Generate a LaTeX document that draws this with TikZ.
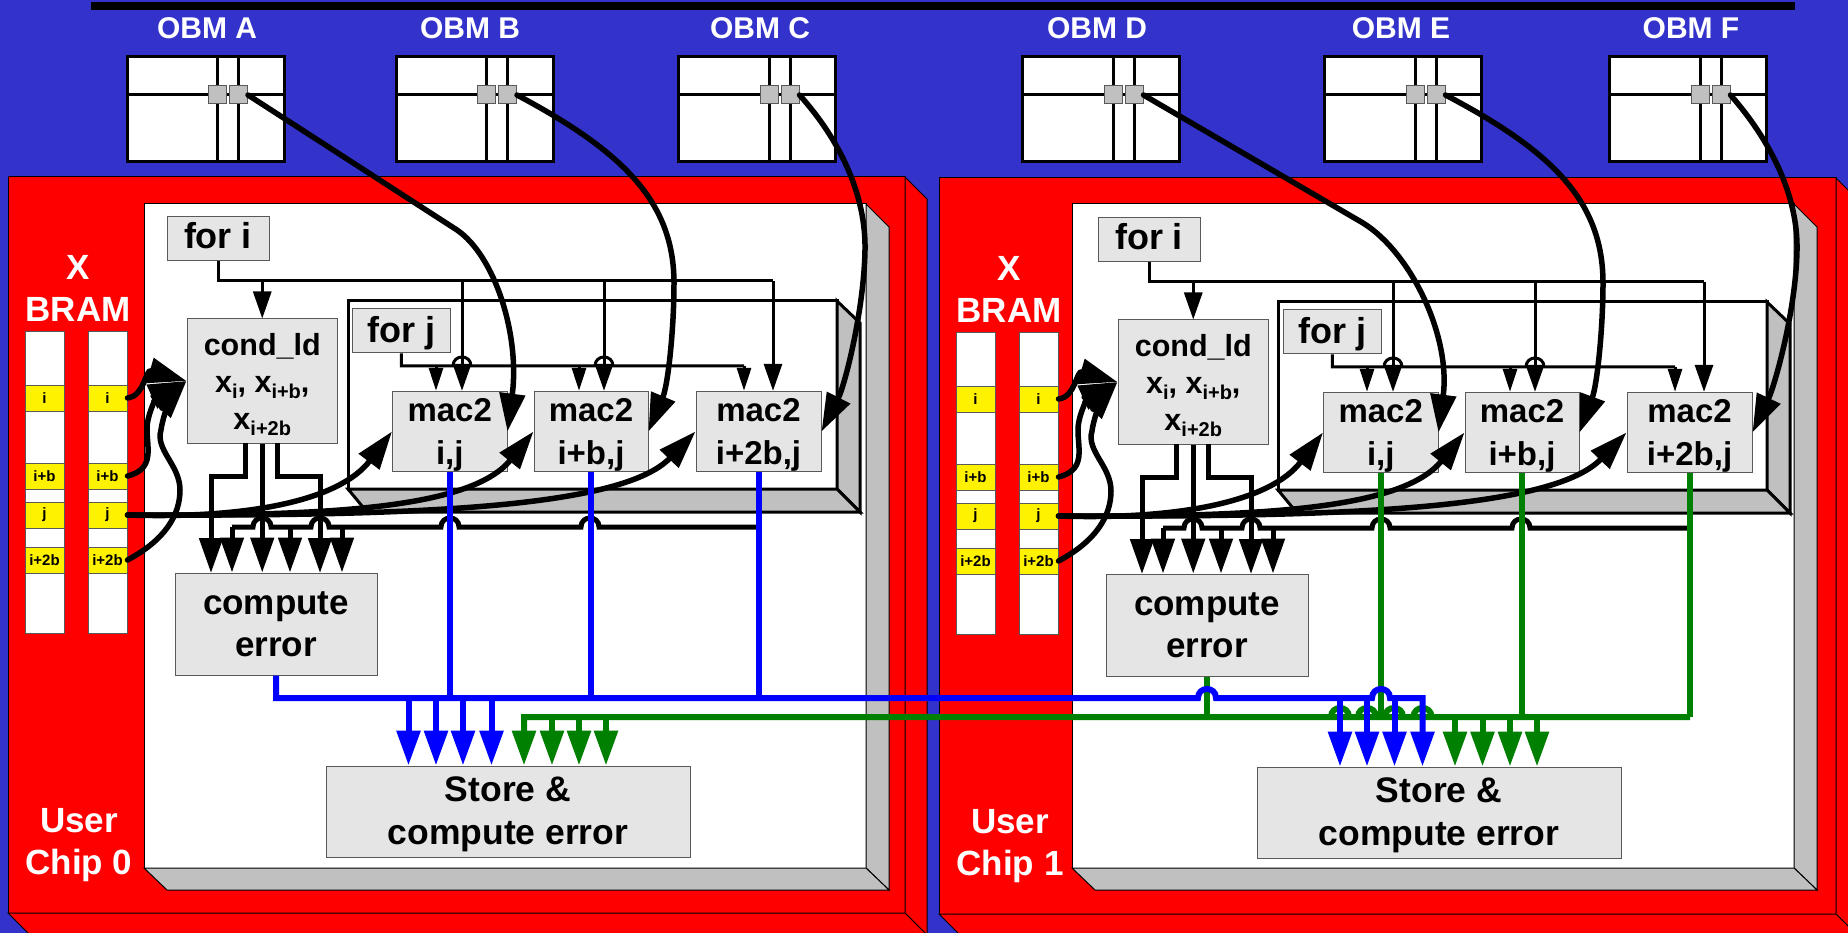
\documentclass[tikz,border=0pt]{standalone}
\usepackage{fontspec}
\setmainfont{Liberation Sans}
\usepackage{tikz}
\usetikzlibrary{arrows.meta}

\definecolor{obmblue}{HTML}{3333CC}
\definecolor{obmgreen}{HTML}{008000}
\definecolor{boxgray}{HTML}{E5E5E5}
\definecolor{depthgray}{HTML}{C0C0C0}

\newcommand{\subtxt}[1]{\smash{\raisebox{-6pt}{\fontsize{20}{20}\selectfont #1}}}

\tikzset{
  edge/.style={draw=black, line width=1pt},
  panel/.style={draw=black, line width=3pt},
  obmbox/.style={draw=black, fill=white, line width=3pt, minimum width=157, minimum height=105, inner sep=0pt},
  portbox/.style={draw=black!65, fill=depthgray, line width=1pt, minimum width=18, minimum height=18, inner sep=0pt},
  obmtext/.style={text=white, font=\fontsize{30}{30}\selectfont\bfseries},
  chiptext/.style={text=white, align=center, font=\fontsize{35}{41.5}\selectfont\bfseries},
  blockbox/.style={draw=black!65, fill=boxgray, line width=1pt, inner sep=0pt, align=center, font=\fontsize{33}{43.5}\selectfont\bfseries},
  bramcol/.style={draw=black!65, fill=white, line width=1pt, minimum width=39, minimum height=301, inner sep=0pt},
  bramcell/.style={draw=black!65, fill=yellow, line width=1pt, minimum width=39, minimum height=26, inner sep=0pt, font=\fontsize{15}{15}\selectfont\bfseries},
  fineline/.style={draw=black, line width=3pt},
  finetip/.style={fineline, -{Triangle[length=27pt,width=18pt]}},
  smalltip/.style={fineline, -{Triangle[length=23pt,width=14pt]}},
  busline/.style={draw=black, line width=5pt},
  bustip/.style={busline, -{Triangle[length=35pt,width=23pt]}},
  curvetip/.style={draw=black, line width=5.5pt, line cap=round, -{Triangle[length=38pt,width=25pt]}},
  bluewire/.style={draw=blue, line width=6pt},
  bluetip/.style={bluewire, -{Triangle[length=35pt,width=23pt]}},
  greenwire/.style={draw=obmgreen, line width=6pt},
  greentip/.style={greenwire, -{Triangle[length=35pt,width=23pt]}},
  hop/.style={insert path={.. controls +(0,-12) and +(0,-12) .. ++(18,0)}},
}

\begin{document}
\begin{tikzpicture}[x=1pt, y=-1pt]

  \useasboundingbox (0,0) rectangle (1848,933);
  \clip (0,0) rectangle (1848,933);
  \fill [obmblue] (0,0) rectangle (1848,933);
  \fill [black] (91,2) rectangle (1795,10);

  %Chip 0
  \draw [edge, fill=red] (8,177) rectangle (905,913);
  \draw [edge, fill=red] (905,177) -- (927,199) -- (927,935) -- (905,913) -- cycle;
  \draw [edge, fill=red] (8,913) -- (905,913) -- (927,935) -- (30,935) -- cycle;
  \draw [edge, fill=white] (144,204) rectangle (866,868);
  \draw [edge, fill=depthgray] (866,204) -- (889,227) -- (889,890) -- (866,868) -- cycle;
  \draw [edge, fill=depthgray] (144,868) -- (866,868) -- (889,890) -- (167,890) -- cycle;
  \draw [panel, fill=white] (348,301) rectangle (837,489);
  \draw [panel, fill=depthgray] (837,301) -- (860,323) -- (860,512) -- (837,489) -- cycle;
  \draw [panel, fill=depthgray] (348,489) -- (837,489) -- (860,512) -- (367,512) -- cycle;
  \node [chiptext] (xbrama) at (78,288.5) {X\\BRAM};
  \node [chiptext] (usera) at (79,845) {User\\Chip 0};
  %Chip 0 BRAM
  \node [bramcol] (colla) at (44.5,482.5) {};
  \node [bramcol] (colra) at (107.5,482.5) {};
  \node [bramcell] (ila) at (44.5,398) {i};
  \node [bramcell] (ira) at (107.5,398) {i};
  \node [bramcell] (bla) at (44.5,476) {i+b};
  \node [bramcell] (bra) at (107.5,476) {i+b};
  \node [bramcell] (jla) at (44.5,515) {j};
  \node [bramcell] (jra) at (107.5,515) {j};
  \node [bramcell] (tla) at (44.5,560) {i+2b};
  \node [bramcell] (tra) at (107.5,560) {i+2b};
  %Chip 0 blocks
  \node [blockbox, minimum width=102, minimum height=44, text depth=7pt, font=\fontsize{36}{36}\selectfont\bfseries] (foria) at (218,239) {for i};
  \node [blockbox, minimum width=150.5, minimum height=124, font=\fontsize{30.5}{37}\selectfont\bfseries] (conda) at (262.25,381) {cond\_ld\\x\subtxt{i}, x\subtxt{i+b},\\x\subtxt{i+2b}};
  \node [blockbox, minimum width=98.5, minimum height=44, text depth=2.5pt, font=\fontsize{36}{36}\selectfont\bfseries] (forja) at (401.25,331) {for j};
  \node [blockbox, minimum width=114.5, minimum height=79] (maca) at (449.75,431.5) {\rule{0pt}{30pt}mac2\\i,j};
  \node [blockbox, minimum width=114, minimum height=79] (macb) at (591,431.5) {\rule{0pt}{30pt}mac2\\i+b,j};
  \node [blockbox, minimum width=125, minimum height=79] (macc) at (758.5,431.5) {\rule{0pt}{30pt}mac2\\i+2b,j};
  \node [blockbox, minimum width=202, minimum height=102, font=\fontsize{35}{42}\selectfont\bfseries] (cea) at (276,624) {compute\\error};
  \node [blockbox, minimum width=364, minimum height=91, font=\fontsize{35.5}{43}\selectfont\bfseries] (storea) at (508,811.5) {\rule{0pt}{30pt}Store \&\\compute error};
  %Chip 0 for i
  \coordinate (iaend) at (773,281);
  \coordinate (iacond) at (262.25,281);
  \coordinate (iamaca) at (462,281);
  \coordinate (iamacb) at (604,281);
  \draw [fineline] (foria.south) |- (iaend);
  \draw [finetip] (iacond) -- (conda.north);
  \draw [finetip] (iamaca) -- (maca.north -| iamaca);
  \draw [finetip] (iamacb) -- (macb.north -| iamacb);
  \draw [finetip] (iaend) -- (macc.north -| iaend);
  %Chip 0 for j
  \coordinate (jamaca) at (436,366);
  \coordinate (jamacb) at (579,366);
  \coordinate (jamacc) at (744,366);
  \coordinate (jahopa) at (453,366);
  \coordinate (jahopb) at (595,366);
  \draw [fineline] (forja.south) |- (jahopa) [hop] -- (jahopb) [hop] -- (jamacc);
  \draw [smalltip] (jamaca) -- (maca.north -| jamaca);
  \draw [smalltip] (jamacb) -- (macb.north -| jamacb);
  \draw [smalltip] (jamacc) -- (macc.north -| jamacc);
  %Chip 0 BRAM to blocks
  \draw [curvetip] (ira.east) .. controls (145,396) and (145,369) .. (conda.west);
  \draw [curvetip] (bra.east) .. controls (160,468) and (143,440) .. (148,420) .. controls (151,405) and (160,393) .. (conda.west);
  \draw [curvetip] (tra.east) .. controls (165,540) and (180,515) .. (180,490) .. controls (180,465) and (155,450) .. (161,430) .. controls (163,415) and (172,397) .. (conda.west);
  \draw [curvetip] (jra.east) .. controls (250,519) and (340,500) .. (maca.west);
  \draw [curvetip] (jra.east) .. controls (320,516) and (470,510) .. (macb.west);
  \draw [curvetip] (jra.east) .. controls (400,516) and (620,510) .. (macc.west);
  %Chip 0 feedback bus
  \coordinate (busa) at (232,527);
  \coordinate (busb) at (290,527);
  \coordinate (busc) at (342,527);
  \coordinate (hopaa) at (253,527);
  \coordinate (hopab) at (311,527);
  \coordinate (hopac) at (441,527);
  \coordinate (hopad) at (581,527);
  \draw [busline] (busa) -- (hopaa) [hop] -- (hopab) [hop] -- (hopac) [hop] -- (hopad) [hop] -- (macc.south |- busa);
  \draw [bustip] (busa) -- (cea.north -| busa);
  \draw [bustip] (busb) -- (cea.north -| busb);
  \draw [bustip] (busc) -- (cea.north -| busc);
  \coordinate (outla) at (245,443);
  \coordinate (bendla) at (245,476);
  \coordinate (tipla) at (211,573);
  \coordinate (outra) at (277,443);
  \coordinate (bendra) at (277,476);
  \coordinate (tipra) at (320,573);
  \draw [bustip] (outla) -- (bendla) -| (tipla);
  \draw [bustip] (conda.south) -- (cea.north -| conda.south);
  \draw [bustip] (outra) -- (bendra) -| (tipra);

  %Chip 1
  \begin{scope}[shift={(931,1)}]
  \draw [edge, fill=red] (8,177) rectangle (905,913);
  \draw [edge, fill=red] (905,177) -- (927,199) -- (927,935) -- (905,913) -- cycle;
  \draw [edge, fill=red] (8,913) -- (905,913) -- (927,935) -- (30,935) -- cycle;
  \draw [edge, fill=white] (141,203) rectangle (863,867);
  \draw [edge, fill=depthgray] (863,203) -- (886,226) -- (886,889) -- (863,867) -- cycle;
  \draw [edge, fill=depthgray] (141,867) -- (863,867) -- (886,889) -- (164,889) -- cycle;
  \draw [panel, fill=white] (347,301) rectangle (836,489);
  \draw [panel, fill=depthgray] (836,301) -- (859,323) -- (859,512) -- (836,489) -- cycle;
  \draw [panel, fill=depthgray] (347,489) -- (836,489) -- (859,512) -- (366,512) -- cycle;
  \node [chiptext] (xbramb) at (78,288.5) {X\\BRAM};
  \node [chiptext] (userb) at (79,845) {User\\Chip 1};
  %Chip 1 BRAM
  \node [bramcol] (collb) at (44.5,482.5) {};
  \node [bramcol] (colrb) at (107.5,482.5) {};
  \node [bramcell] (ilb) at (44.5,398) {i};
  \node [bramcell] (irb) at (107.5,398) {i};
  \node [bramcell] (blb) at (44.5,476) {i+b};
  \node [bramcell] (brb) at (107.5,476) {i+b};
  \node [bramcell] (jlb) at (44.5,515) {j};
  \node [bramcell] (jrb) at (107.5,515) {j};
  \node [bramcell] (tlb) at (44.5,560) {i+2b};
  \node [bramcell] (trb) at (107.5,560) {i+2b};
  %Chip 1 blocks
  \node [blockbox, minimum width=102, minimum height=44, text depth=7pt, font=\fontsize{36}{36}\selectfont\bfseries] (forib) at (218,239) {for i};
  \node [blockbox, minimum width=150.5, minimum height=124, font=\fontsize{30.5}{37}\selectfont\bfseries] (condb) at (262.25,381) {cond\_ld\\x\subtxt{i}, x\subtxt{i+b},\\x\subtxt{i+2b}};
  \node [blockbox, minimum width=98.5, minimum height=44, text depth=2.5pt, font=\fontsize{36}{36}\selectfont\bfseries] (forjb) at (401.25,331) {for j};
  \node [blockbox, minimum width=114.5, minimum height=79] (macd) at (449.75,431.5) {\rule{0pt}{30pt}mac2\\i,j};
  \node [blockbox, minimum width=114, minimum height=79] (mace) at (591,431.5) {\rule{0pt}{30pt}mac2\\i+b,j};
  \node [blockbox, minimum width=125, minimum height=79] (macf) at (758.5,431.5) {\rule{0pt}{30pt}mac2\\i+2b,j};
  \node [blockbox, minimum width=202, minimum height=102, font=\fontsize{35}{42}\selectfont\bfseries] (ceb) at (276,624) {compute\\error};
  \node [blockbox, minimum width=364, minimum height=91, font=\fontsize{35.5}{43}\selectfont\bfseries] (storeb) at (508,811.5) {\rule{0pt}{30pt}Store \&\\compute error};
  %Chip 1 for i
  \coordinate (ibend) at (773,281);
  \coordinate (ibcond) at (262.25,281);
  \coordinate (ibmacd) at (462,281);
  \coordinate (ibmace) at (604,281);
  \draw [fineline] (forib.south) |- (ibend);
  \draw [finetip] (ibcond) -- (condb.north);
  \draw [finetip] (ibmacd) -- (macd.north -| ibmacd);
  \draw [finetip] (ibmace) -- (mace.north -| ibmace);
  \draw [finetip] (ibend) -- (macf.north -| ibend);
  %Chip 1 for j
  \coordinate (jbmacd) at (436,366);
  \coordinate (jbmace) at (579,366);
  \coordinate (jbmacf) at (744,366);
  \coordinate (jbhopa) at (453,366);
  \coordinate (jbhopb) at (595,366);
  \draw [fineline] (forjb.south) |- (jbhopa) [hop] -- (jbhopb) [hop] -- (jbmacf);
  \draw [smalltip] (jbmacd) -- (macd.north -| jbmacd);
  \draw [smalltip] (jbmace) -- (mace.north -| jbmace);
  \draw [smalltip] (jbmacf) -- (macf.north -| jbmacf);
  %Chip 1 BRAM to blocks
  \draw [curvetip] (irb.east) .. controls (145,396) and (145,369) .. (condb.west);
  \draw [curvetip] (brb.east) .. controls (160,468) and (143,440) .. (148,420) .. controls (151,405) and (160,393) .. (condb.west);
  \draw [curvetip] (trb.east) .. controls (165,540) and (180,515) .. (180,490) .. controls (180,465) and (155,450) .. (161,430) .. controls (163,415) and (172,397) .. (condb.west);
  \draw [curvetip] (jrb.east) .. controls (250,519) and (340,500) .. (macd.west);
  \draw [curvetip] (jrb.east) .. controls (320,516) and (470,510) .. (mace.west);
  \draw [curvetip] (jrb.east) .. controls (400,516) and (620,510) .. (macf.west);
  %Chip 1 feedback bus
  \coordinate (busd) at (232,527);
  \coordinate (buse) at (290,527);
  \coordinate (busf) at (342,527);
  \coordinate (hopba) at (253,527);
  \coordinate (hopbb) at (311,527);
  \coordinate (hopbc) at (441,527);
  \coordinate (hopbd) at (581,527);
  \draw [busline] (busd) -- (hopba) [hop] -- (hopbb) [hop] -- (hopbc) [hop] -- (hopbd) [hop] -- (macf.south |- busd);
  \draw [bustip] (busd) -- (ceb.north -| busd);
  \draw [bustip] (buse) -- (ceb.north -| buse);
  \draw [bustip] (busf) -- (ceb.north -| busf);
  \coordinate (outlb) at (245,443);
  \coordinate (bendlb) at (245,476);
  \coordinate (tiplb) at (211,573);
  \coordinate (outrb) at (277,443);
  \coordinate (bendrb) at (277,476);
  \coordinate (tiprb) at (320,573);
  \draw [bustip] (outlb) -- (bendlb) -| (tiplb);
  \draw [bustip] (condb.south) -- (ceb.north -| condb.south);
  \draw [bustip] (outrb) -- (bendrb) -| (tiprb);
  \end{scope}

  %OBM A
  \node [obmtext] (texta) at (207,28.5) {OBM A};
  \node [obmbox] (obma) at (205.5,109.5) {};
  \node [portbox] (portal) at (217.5,95) {};
  \node [portbox] (portar) at (238.5,95) {};
  \draw [fineline] (obma.west |- portal) -- (portal.west);
  \draw [fineline] (portar.east) -- (obma.east |- portar);
  \draw [fineline] (portal.north |- obma.north) -- (portal.north);
  \draw [fineline] (portal.south) -- (portal.south |- obma.south);
  \draw [fineline] (portar.north |- obma.north) -- (portar.north);
  \draw [fineline] (portar.south) -- (portar.south |- obma.south);
  \draw [fineline] (portal.east) -- (portar.west);
  %OBM B
  \node [obmtext] (textb) at (470,28.5) {OBM B};
  \node [obmbox] (obmb) at (474.5,109.5) {};
  \node [portbox] (portbl) at (486.5,95) {};
  \node [portbox] (portbr) at (507.5,95) {};
  \draw [fineline] (obmb.west |- portbl) -- (portbl.west);
  \draw [fineline] (portbr.east) -- (obmb.east |- portbr);
  \draw [fineline] (portbl.north |- obmb.north) -- (portbl.north);
  \draw [fineline] (portbl.south) -- (portbl.south |- obmb.south);
  \draw [fineline] (portbr.north |- obmb.north) -- (portbr.north);
  \draw [fineline] (portbr.south) -- (portbr.south |- obmb.south);
  \draw [fineline] (portbl.east) -- (portbr.west);
  %OBM C
  \node [obmtext] (textc) at (760,28.5) {OBM C};
  \node [obmbox] (obmc) at (757,109.5) {};
  \node [portbox] (portcl) at (769,95) {};
  \node [portbox] (portcr) at (790,95) {};
  \draw [fineline] (obmc.west |- portcl) -- (portcl.west);
  \draw [fineline] (portcr.east) -- (obmc.east |- portcr);
  \draw [fineline] (portcl.north |- obmc.north) -- (portcl.north);
  \draw [fineline] (portcl.south) -- (portcl.south |- obmc.south);
  \draw [fineline] (portcr.north |- obmc.north) -- (portcr.north);
  \draw [fineline] (portcr.south) -- (portcr.south |- obmc.south);
  \draw [fineline] (portcl.east) -- (portcr.west);
  %OBM D
  \node [obmtext] (textd) at (1097,28.5) {OBM D};
  \node [obmbox] (obmd) at (1100.5,109.5) {};
  \node [portbox] (portdl) at (1113,95) {};
  \node [portbox] (portdr) at (1134,95) {};
  \draw [fineline] (obmd.west |- portdl) -- (portdl.west);
  \draw [fineline] (portdr.east) -- (obmd.east |- portdr);
  \draw [fineline] (portdl.north |- obmd.north) -- (portdl.north);
  \draw [fineline] (portdl.south) -- (portdl.south |- obmd.south);
  \draw [fineline] (portdr.north |- obmd.north) -- (portdr.north);
  \draw [fineline] (portdr.south) -- (portdr.south |- obmd.south);
  \draw [fineline] (portdl.east) -- (portdr.west);
  %OBM E
  \node [obmtext] (texte) at (1401,28.5) {OBM E};
  \node [obmbox] (obme) at (1402.5,109.5) {};
  \node [portbox] (portel) at (1415,95) {};
  \node [portbox] (porter) at (1436,95) {};
  \draw [fineline] (obme.west |- portel) -- (portel.west);
  \draw [fineline] (porter.east) -- (obme.east |- porter);
  \draw [fineline] (portel.north |- obme.north) -- (portel.north);
  \draw [fineline] (portel.south) -- (portel.south |- obme.south);
  \draw [fineline] (porter.north |- obme.north) -- (porter.north);
  \draw [fineline] (porter.south) -- (porter.south |- obme.south);
  \draw [fineline] (portel.east) -- (porter.west);
  %OBM F
  \node [obmtext] (textf) at (1691,28.5) {OBM F};
  \node [obmbox] (obmf) at (1687.5,109.5) {};
  \node [portbox] (portfl) at (1700,95) {};
  \node [portbox] (portfr) at (1721,95) {};
  \draw [fineline] (obmf.west |- portfl) -- (portfl.west);
  \draw [fineline] (portfr.east) -- (obmf.east |- portfr);
  \draw [fineline] (portfl.north |- obmf.north) -- (portfl.north);
  \draw [fineline] (portfl.south) -- (portfl.south |- obmf.south);
  \draw [fineline] (portfr.north |- obmf.north) -- (portfr.north);
  \draw [fineline] (portfr.south) -- (portfr.south |- obmf.south);
  \draw [fineline] (portfl.east) -- (portfr.west);

  %OBM to mac
  \draw [curvetip] (portar.east) -- (457,230) .. controls (495,256) and (520,335) .. (maca.east);
  \draw [curvetip] (portbr.east) .. controls (620,150) and (674,200) .. (674,283) .. controls (674,330) and (668,385) .. (macb.east);
  \draw [curvetip] (portcr.east) .. controls (840,140) and (866,195) .. (865,250) .. controls (864,310) and (845,385) .. (macc.east);
  \draw [curvetip] (portdr.east) -- (1363,223) .. controls (1410,252) and (1451,335) .. (macd.east);
  \draw [curvetip] (porter.east) .. controls (1550,150) and (1603,200) .. (1603,283) .. controls (1603,330) and (1597,385) .. (mace.east);
  \draw [curvetip] (portfr.east) .. controls (1770,140) and (1798,195) .. (1797,250) .. controls (1796,310) and (1775,385) .. (macf.east);

  %Blue and green
  \coordinate (bluea) at (276,698);
  \coordinate (blueb) at (1198,698);
  \coordinate (bluec) at (1372,698);
  \coordinate (blued) at (1422.5,698);
  \coordinate (greena) at (524,717);
  \coordinate (greenb) at (1331,717);
  \coordinate (greenc) at (1358,717);
  \coordinate (greend) at (1385,717);
  \coordinate (greene) at (1413.5,717);
  \coordinate (greenf) at (1690,717);
  \coordinate (tapaa) at (408.5,698);
  \coordinate (tapab) at (436,698);
  \coordinate (tapac) at (463,698);
  \coordinate (tapad) at (491.5,698);
  \coordinate (tapba) at (552,717);
  \coordinate (tapbb) at (579,717);
  \coordinate (tapbc) at (606,717);
  \coordinate (tapca) at (1340,698);
  \coordinate (tapcb) at (1367,698);
  \coordinate (tapcc) at (1394.5,698);
  \coordinate (tapda) at (1455,717);
  \coordinate (tapdb) at (1482.5,717);
  \coordinate (tapdc) at (1510,717);
  \coordinate (tapdd) at (1537,717);
  %Chip 0 mac outputs
  \draw [bluewire] (maca.south) -- (maca.south |- bluea);
  \draw [bluewire] (macb.south) -- (macb.south |- bluea);
  \draw [bluewire] (macc.south) -- (macc.south |- bluea);
  %Chip 1 mac outputs
  \draw [greenwire] (ceb.south) -- (ceb.south |- greena);
  \draw [greenwire] (macd.south) -- (macd.south |- greena);
  \draw [greenwire] (mace.south) -- (mace.south |- greena);
  \draw [greenwire] (macf.south) -- (macf.south |- greena);
  %Green bus
  \draw [greentip] (greenf) -- (greene) [hop] -- (greend) [hop] -- (greenc) [hop] -- (greenb) [hop] -- (greena) -- (storea.north -| greena);
  \draw [greentip] (tapba) -- (storea.north -| tapba);
  \draw [greentip] (tapbb) -- (storea.north -| tapbb);
  \draw [greentip] (tapbc) -- (storea.north -| tapbc);
  \draw [greentip] (tapda) -- (storeb.north -| tapda);
  \draw [greentip] (tapdb) -- (storeb.north -| tapdb);
  \draw [greentip] (tapdc) -- (storeb.north -| tapdc);
  \draw [greentip] (tapdd) -- (storeb.north -| tapdd);
  %Blue bus
  \draw [bluetip] (cea.south) |- (blueb) [hop] -- (bluec) [hop] -- (blued) -- (storeb.north -| blued);
  \draw [bluetip] (tapaa) -- (storea.north -| tapaa);
  \draw [bluetip] (tapab) -- (storea.north -| tapab);
  \draw [bluetip] (tapac) -- (storea.north -| tapac);
  \draw [bluetip] (tapad) -- (storea.north -| tapad);
  \draw [bluetip] (tapca) -- (storeb.north -| tapca);
  \draw [bluetip] (tapcb) -- (storeb.north -| tapcb);
  \draw [bluetip] (tapcc) -- (storeb.north -| tapcc);

\end{tikzpicture}
\end{document}
